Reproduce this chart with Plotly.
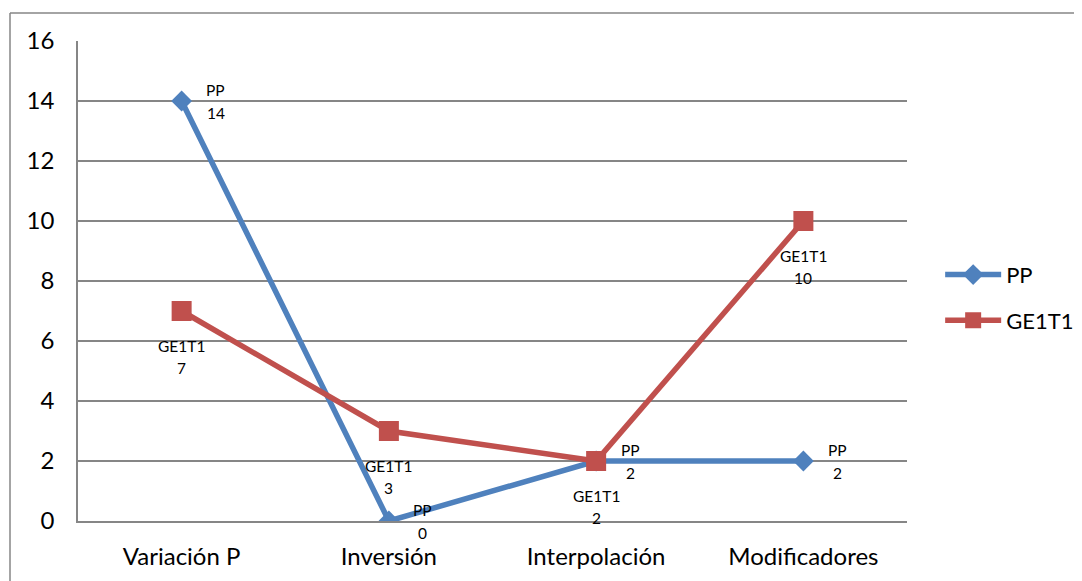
import plotly.graph_objects as go

categories = ["Variación P", "Inversión", "Interpolación", "Modificadores"]
pp_values = [14, 0, 2, 2]
ge_values = [7, 3, 2, 10]
series_names = ["PP", "GE1T1"]
y_ticks = [0, 2, 4, 6, 8, 10, 12, 14, 16]

BLUE = "#4F81BD"
RED = "#C0504D"
GRID = "#868686"
FONT = "Lato, Carlito, Calibri, sans-serif"

fig = go.Figure()
fig.add_trace(go.Scatter(
    x=categories, y=pp_values, name=series_names[0], mode="lines+markers",
    line=dict(color=BLUE, width=5.5),
    marker=dict(symbol="diamond", size=16, color=BLUE),
    legendgroup="a",
))
fig.add_trace(go.Scatter(
    x=categories, y=ge_values, name=series_names[1], mode="lines+markers",
    line=dict(color=RED, width=5.5),
    marker=dict(symbol="square", size=20, color=RED),
    legendgroup="b",
))

LBL = dict(size=15.5, color="black", family=FONT)
annots = []
for c, v in zip(categories, pp_values):
    annots.append(dict(x=c, y=v, text=series_names[0], showarrow=False, xanchor="center",
                       yanchor="middle", xshift=34, yshift=11, font=LBL))
    annots.append(dict(x=c, y=v, text=str(v), showarrow=False, xanchor="center",
                       yanchor="middle", xshift=34, yshift=-12, font=LBL))
for c, v in zip(categories, ge_values):
    annots.append(dict(x=c, y=v, text=series_names[1], showarrow=False, xanchor="center",
                       yanchor="middle", xshift=0, yshift=-35, font=LBL))
    annots.append(dict(x=c, y=v, text=str(v), showarrow=False, xanchor="center",
                       yanchor="middle", xshift=0, yshift=-57, font=LBL))

OFF = 8  # page body margin
W, H = 1082, 581
L, T = 78 - OFF, 41 - OFF
R = W - (907 - OFF)
B = H - (521 - OFF)
pw, ph = W - L - R, H - T - B
bx0 = ((10 - OFF) - L) / pw
by1 = 1 + (T - (13 - OFF)) / ph

fig.update_layout(
    width=W, height=H,
    margin=dict(l=L, r=R, t=T, b=B, autoexpand=False),
    paper_bgcolor="white", plot_bgcolor="white",
    font=dict(family=FONT, color="black"),
    showlegend=True,
    legend=dict(x=1.04, xanchor="left", y=0.465, yanchor="middle",
                font=dict(size=22, family=FONT, color="black"),
                itemwidth=56,
                tracegroupgap=14, bgcolor="rgba(0,0,0,0)"),
    annotations=annots,
    shapes=[
        dict(type="line", xref="paper", yref="paper", x0=bx0, x1=1.3, y0=by1, y1=by1,
             line=dict(color=GRID, width=1.5)),
        dict(type="line", xref="paper", yref="paper", x0=bx0, x1=bx0, y0=by1, y1=-0.3,
             line=dict(color=GRID, width=1.5)),
    ],
)
fig.update_xaxes(
    type="category", range=[-0.5, 3.5], showgrid=False,
    showline=True, linecolor=GRID, linewidth=1.5,
    ticks="", tickfont=dict(size=24, family=FONT, color="black"),
    ticklabelstandoff=13,
)
fig.update_yaxes(
    range=[0, 16], tickvals=y_ticks, showgrid=True, gridcolor=GRID, gridwidth=1.5,
    showline=True, linecolor=GRID, linewidth=1.5, zeroline=False,
    ticks="", tickfont=dict(size=24, family=FONT, color="black"),
    ticklabelstandoff=17,
)

fig.write_html("out.html")
